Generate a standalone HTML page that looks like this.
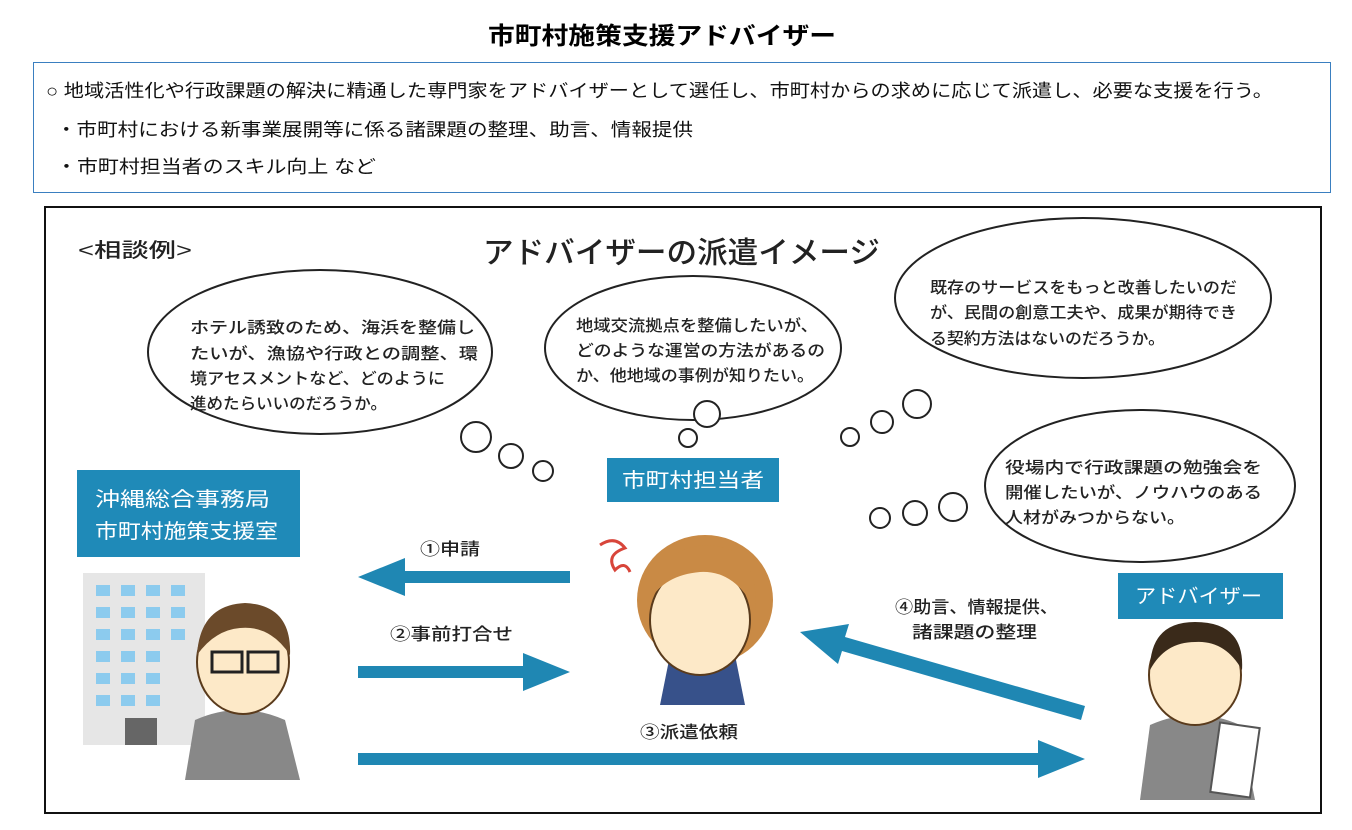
<!DOCTYPE html>
<html><head><meta charset="utf-8"><style>
body{margin:0;background:#fff;width:1352px;height:825px;overflow:hidden;font-family:"Liberation Sans","Noto Sans CJK JP",sans-serif;}
</style></head><body>
<svg width="1352" height="825" xmlns="http://www.w3.org/2000/svg" font-family="Liberation Sans, Noto Sans CJK JP, sans-serif">
<text x="488" y="44" textLength="348" lengthAdjust="spacingAndGlyphs" font-size="24" font-weight="bold" fill="#000">市町村施策支援アドバイザー</text>
<rect x="33.5" y="62.5" width="1297" height="130" fill="#fff" stroke="#3a7fc0" stroke-width="1"/>
<g font-size="18" fill="#111">
<text x="46" y="97" textLength="1227" lengthAdjust="spacingAndGlyphs">○ 地域活性化や行政課題の解決に精通した専門家をアドバイザーとして選任し、市町村からの求めに応じて派遣し、必要な支援を行う。</text>
<text x="56" y="136" textLength="637" lengthAdjust="spacingAndGlyphs">・市町村における新事業展開等に係る諸課題の整理、助言、情報提供</text>
<text x="56" y="173" textLength="320" lengthAdjust="spacingAndGlyphs">・市町村担当者のスキル向上 など</text>
</g>
<rect x="45" y="207" width="1276" height="606" fill="#fff" stroke="#111" stroke-width="2"/>
<text x="78" y="257" textLength="114" lengthAdjust="spacingAndGlyphs" font-size="20" font-weight="500" fill="#222">&lt;相談例&gt;</text>
<text x="483" y="263" textLength="397" lengthAdjust="spacingAndGlyphs" font-size="30" font-weight="500" fill="#222">アドバイザーの派遣イメージ</text>
<g fill="#fff" stroke="#222" stroke-width="2">
<ellipse cx="320" cy="352" rx="172" ry="82"/>
<ellipse cx="693" cy="348" rx="148" ry="72"/>
<ellipse cx="1083" cy="298" rx="188" ry="80"/>
<ellipse cx="1140" cy="486" rx="155" ry="76"/>
<circle cx="476" cy="437" r="15"/><circle cx="511" cy="456" r="12"/><circle cx="543" cy="471" r="10"/>
<circle cx="707" cy="414" r="13"/><circle cx="688" cy="438" r="9"/>
<circle cx="917" cy="404" r="14"/><circle cx="882" cy="422" r="11"/><circle cx="850" cy="437" r="9"/>
<circle cx="953" cy="507" r="14"/><circle cx="915" cy="513" r="12"/><circle cx="880" cy="518" r="10"/>
</g>
<g font-size="16" font-weight="500" fill="#222" lengthAdjust="spacingAndGlyphs">
<text x="190" y="333" textLength="285" lengthAdjust="spacingAndGlyphs">ホテル誘致のため、海浜を整備し</text>
<text x="190" y="359" textLength="288" lengthAdjust="spacingAndGlyphs">たいが、漁協や行政との調整、環</text>
<text x="190" y="384" textLength="255" lengthAdjust="spacingAndGlyphs">境アセスメントなど、どのように</text>
<text x="190" y="409" textLength="197" lengthAdjust="spacingAndGlyphs">進めたらいいのだろうか。</text>
<text x="576" y="331" textLength="242" lengthAdjust="spacingAndGlyphs">地域交流拠点を整備したいが、</text>
<text x="576" y="356" textLength="249" lengthAdjust="spacingAndGlyphs">どのような運営の方法があるの</text>
<text x="576" y="381" textLength="238" lengthAdjust="spacingAndGlyphs">か、他地域の事例が知りたい。</text>
<text x="930" y="293" textLength="307" lengthAdjust="spacingAndGlyphs">既存のサービスをもっと改善したいのだ</text>
<text x="930" y="318" textLength="307" lengthAdjust="spacingAndGlyphs">が、民間の創意工夫や、成果が期待でき</text>
<text x="930" y="344" textLength="235" lengthAdjust="spacingAndGlyphs">る契約方法はないのだろうか。</text>
<text x="1005" y="473" textLength="257" lengthAdjust="spacingAndGlyphs">役場内で行政課題の勉強会を</text>
<text x="1005" y="498" textLength="257" lengthAdjust="spacingAndGlyphs">開催したいが、ノウハウのある</text>
<text x="1005" y="523" textLength="180" lengthAdjust="spacingAndGlyphs">人材がみつからない。</text>
</g>
<rect x="77" y="470" width="223" height="87" fill="#1f8ab8"/>
<text x="95" y="506" textLength="175" lengthAdjust="spacingAndGlyphs" font-size="20" fill="#fff">沖縄総合事務局</text>
<text x="95" y="538" textLength="183" lengthAdjust="spacingAndGlyphs" font-size="20" fill="#fff">市町村施策支援室</text>
<rect x="607" y="458" width="172" height="44" fill="#1f8ab8"/>
<text x="622" y="487" textLength="142" lengthAdjust="spacingAndGlyphs" font-size="20" fill="#fff">市町村担当者</text>
<rect x="1118" y="573" width="165" height="46" fill="#1f8ab8"/>
<text x="1135" y="603" textLength="127" lengthAdjust="spacingAndGlyphs" font-size="20" fill="#fff">アドバイザー</text>
<g fill="#1f87b3">
<polygon points="570,571 405,571 405,558 358,577 405,596 405,583 570,583"/>
<polygon points="358,666 523,666 523,653 570,672 523,691 523,678 358,678"/>
<polygon points="358,753 1038,753 1038,740 1085,759 1038,778 1038,765 358,765"/>
<polygon points="1085,706 845,637 849,624 800,632 838,664 842,651 1081,720"/>
</g>
<g font-size="17" font-weight="500" fill="#222">
<text x="420" y="555" textLength="60" lengthAdjust="spacingAndGlyphs">①申請</text>
<text x="390" y="640" textLength="123" lengthAdjust="spacingAndGlyphs">②事前打合せ</text>
<text x="640" y="738" textLength="98" lengthAdjust="spacingAndGlyphs">③派遣依頼</text>
<text x="895" y="613" textLength="163" lengthAdjust="spacingAndGlyphs">④助言、情報提供、</text>
<text x="912" y="638" textLength="125" lengthAdjust="spacingAndGlyphs">諸課題の整理</text>
</g>
<rect x="83" y="573" width="122" height="172" fill="#e6e6e6"/>
<g fill="#8ccbee">
<rect x="96" y="585" width="14" height="11"/><rect x="121" y="585" width="14" height="11"/><rect x="146" y="585" width="14" height="11"/><rect x="171" y="585" width="14" height="11"/>
<rect x="96" y="607" width="14" height="11"/><rect x="121" y="607" width="14" height="11"/><rect x="146" y="607" width="14" height="11"/><rect x="171" y="607" width="14" height="11"/>
<rect x="96" y="629" width="14" height="11"/><rect x="121" y="629" width="14" height="11"/><rect x="146" y="629" width="14" height="11"/><rect x="171" y="629" width="14" height="11"/>
<rect x="96" y="651" width="14" height="11"/><rect x="121" y="651" width="14" height="11"/><rect x="146" y="651" width="14" height="11"/>
<rect x="96" y="673" width="14" height="11"/><rect x="121" y="673" width="14" height="11"/><rect x="146" y="673" width="14" height="11"/>
<rect x="96" y="695" width="14" height="11"/><rect x="121" y="695" width="14" height="11"/><rect x="146" y="695" width="14" height="11"/>
</g>
<rect x="125" y="718" width="32" height="27" fill="#666"/>
<path d="M185,780 L195,720 Q240,700 285,720 L300,780 Z" fill="#888"/>
<ellipse cx="243" cy="662" rx="46" ry="52" fill="#fde9c8" stroke="#5a3b1c" stroke-width="2"/>
<path d="M197,655 Q200,605 245,603 Q292,605 290,655 Q270,625 240,628 Q215,630 197,655Z" fill="#6b4a2a"/>
<rect x="212" y="652" width="30" height="20" fill="none" stroke="#222" stroke-width="3"/><rect x="248" y="652" width="30" height="20" fill="none" stroke="#222" stroke-width="3"/>
<ellipse cx="705" cy="600" rx="68" ry="65" fill="#c98a45"/>
<path d="M670,655 L660,705 L745,705 L735,655 Z" fill="#37518a"/>
<ellipse cx="700" cy="620" rx="50" ry="55" fill="#fde9c8" stroke="#5a3b1c" stroke-width="2"/>
<path d="M650,600 Q660,545 710,545 Q760,550 755,610 Q735,570 700,572 Q665,575 650,600Z" fill="#c98a45"/>
<path d="M600,545 Q615,535 625,548 Q605,555 615,570 Q625,560 630,572" fill="none" stroke="#d8453a" stroke-width="3"/>
<path d="M1140,800 L1150,725 Q1195,705 1240,725 L1255,800 Z" fill="#888"/>
<ellipse cx="1195" cy="675" rx="46" ry="50" fill="#fde9c8" stroke="#5a3b1c" stroke-width="2"/>
<path d="M1150,670 Q1150,622 1195,622 Q1245,622 1242,670 Q1225,640 1195,642 Q1165,642 1150,670Z" fill="#3a2a1a"/>
<rect x="1215" y="725" width="40" height="70" fill="#fff" stroke="#555" stroke-width="2" transform="rotate(8 1235 760)"/>
</svg>
</body></html>
